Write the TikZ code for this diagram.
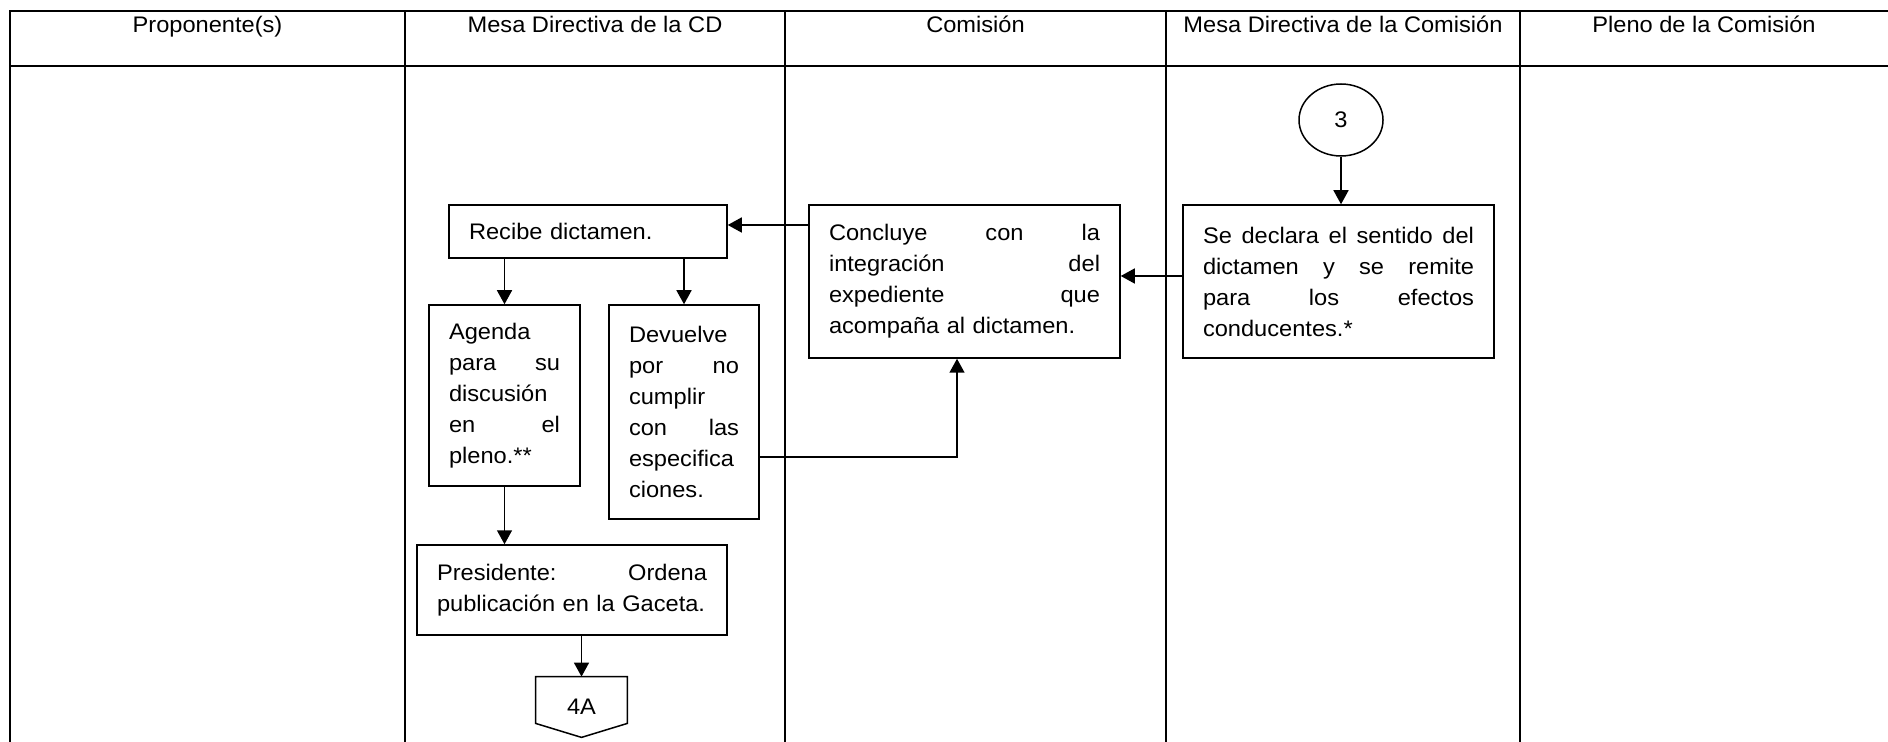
\documentclass[tikz,border=0pt]{standalone}
\usepackage{fontspec}
\setmainfont[FakeStretch=1.05]{Liberation Sans}
\usetikzlibrary{arrows.meta,shapes.geometric}

\begin{document}
\begin{tikzpicture}[
	x=0.5pt, y=-0.5pt
	,every node/.append style={font=\fontsize{11.25}{15.5}\selectfont}
	,lane/.style={line width=1.3pt}
	,proc/.style={draw, line width=0.75pt, inner xsep=10pt, inner ysep=0pt, align=left}
	,arr/.style={line width=0.75pt, -{Triangle[length=7pt, width=7.5pt]}}
	,conn/.style={draw, ellipse, line width=0.75pt, minimum width=42pt, minimum height=36pt, inner sep=0pt}
]
	\useasboundingbox (0,0) rectangle (1888,742);
	\draw[lane] (10,742) -- (10,11) -- (1888,11);
	\draw[lane] (10,66) -- (1888,66);
	\foreach \x in {405,785,1166,1520}
		\draw[lane] (\x,11) -- (\x,742);

	\node[anchor=base] (h1) at (207.5,33) {Proponente(s)};
	\node[anchor=base] (h2) at (595,33) {Mesa Directiva de la CD};
	\node[anchor=base] (h3) at (975.5,33) {Comisión};
	\node[anchor=base] (h4) at (1343,33) {Mesa Directiva de la Comisión};
	\node[anchor=base] (h5) at (1704,33) {Pleno de la Comisión};

	\node[conn] (c3) at (1341,120) {3};
	\node[proc, text width=135.5pt, minimum height=76.5pt] (sd) at (1338.5,281.5) {%
		Se \hfill declara \hfill el \hfill sentido \hfill del\\
		dictamen \hfill y \hfill se \hfill remite\\
		para \hfill los \hfill efectos\\
		conducentes.*};
	\node[proc, text width=135.5pt, minimum height=76.5pt] (concl) at (964.5,281.5) {%
		Concluye \hfill con \hfill la\\
		integración \hfill del\\
		expediente \hfill que\\
		acompaña al dictamen.};
	\node[proc, text width=119pt, minimum height=26.5pt] (recibe) at (588,231.5) {Recibe dictamen.};
	\node[proc, text width=55.5pt, minimum height=90.5pt] (agenda) at (504.5,395.5) {%
		Agenda\\
		para \hfill su\\
		discusión\\
		en \hfill el\\
		pleno.**};
	\node[proc, text width=55pt, minimum height=107pt] (devuelve) at (684,412) {%
		Devuelve\\
		por \hfill no\\
		cumplir\\
		con \hfill las\\
		especifica\\
		ciones.};
	\node[proc, text width=135pt, minimum height=45pt] (pres) at (572,590) {%
		Presidente: \hfill Ordena\\
		publicación en la Gaceta.};
	\node[minimum width=45.5pt, minimum height=30pt, inner sep=0pt] (fourA) at (581.5,707) {4A};
	\draw[line width=0.75pt] (fourA.north west) -- (fourA.north east) -- ([yshift=7pt]fourA.south east)
		-- (fourA.south) -- ([yshift=7pt]fourA.south west) -- cycle;

	\draw[arr] (c3) -- (c3 |- sd.north);
	\draw[arr] ([yshift=2.75pt]sd.west) -- ([yshift=2.75pt]concl.east);
	\draw[arr] ([yshift=28.25pt]concl.west) -- ([yshift=3.25pt]recibe.east);
	\draw[arr] (recibe.south -| agenda) -- (agenda.north);
	\draw[arr] (recibe.south -| devuelve) -- (devuelve.north);
	\draw[arr] ([yshift=-22.5pt]devuelve.east) -| ([xshift=-3.75pt]concl.south);
	\draw[arr] (agenda.south) -- (agenda.south |- pres.north);
	\draw[arr] (pres.south -| fourA) -- (fourA.north);
\end{tikzpicture}
\end{document}
